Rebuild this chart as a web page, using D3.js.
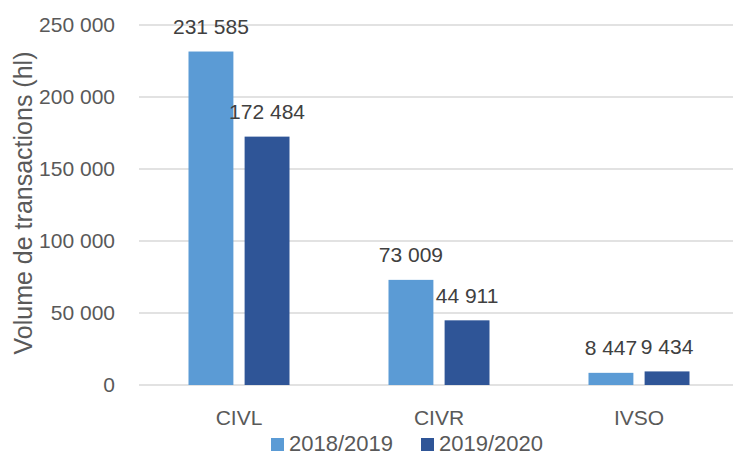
<!DOCTYPE html>
<html lang="fr">
<head>
<meta charset="utf-8">
<title>Volume de transactions</title>
<script src="https://d3js.org/d3.v7.min.js"></script>
<style>
  body { margin: 0; background: #ffffff; }
  svg text { font-family: "Liberation Sans", Arial, sans-serif; fill: #595959; }
</style>
</head>
<body>
<script>
// data
const categories = ["CIVL", "CIVR", "IVSO"];
const seriesNames = ["2018/2019", "2019/2020"];
const values2018 = [231585, 73009, 8447];
const values2019 = [172484, 44911, 9434];
const yTicks = [0, 50000, 100000, 150000, 200000, 250000];
const colors = ["#5B9BD5", "#2F5597"];

const width = 733, height = 455;
const svg = d3.select("body").append("svg")
  .attr("width", width)
  .attr("height", height);

const fr = d3.formatLocale({decimal: ",", thousands: " ", grouping: [3], currency: ["", " €"]});
const fmt = fr.format(",d");

// scales
const x0 = d3.scaleBand().domain(categories).range([139, 739]);
const x1 = d3.scaleBand().domain(seriesNames).range([49.5, 150.5]).paddingInner(0.2);
const y = d3.scaleLinear().domain([0, 250000]).range([385, 25]);

// gridlines
svg.append("g").selectAll("line")
  .data(yTicks)
  .join("line")
  .attr("x1", 139).attr("x2", 739)
  .attr("y1", d => y(d)).attr("y2", d => y(d))
  .attr("stroke", "#d9d9d9")
  .attr("stroke-width", 1.3);

// y tick labels
svg.append("g").selectAll("text")
  .data(yTicks)
  .join("text")
  .attr("x", 115)
  .attr("y", d => y(d))
  .attr("dy", "0.35em")
  .attr("text-anchor", "end")
  .style("font-size", "21px")
  .text(d => fmt(d));

// axis title
svg.append("text")
  .attr("transform", "translate(23,203) rotate(-90)")
  .attr("text-anchor", "middle")
  .attr("dy", "0.35em")
  .style("font-size", "25px")
  .text("Volume de transactions (hl)");

// bars + labels
const rows = categories.map((c, i) => ({cat: c, vals: [values2018[i], values2019[i]]}));
const groups = svg.append("g").selectAll("g")
  .data(rows)
  .join("g")
  .attr("transform", d => `translate(${x0(d.cat)},0)`);

groups.selectAll("rect")
  .data(d => d.vals.map((v, j) => ({s: seriesNames[j], v: v, j: j})))
  .join("rect")
  .attr("x", d => x1(d.s))
  .attr("y", d => y(d.v))
  .attr("width", x1.bandwidth())
  .attr("height", d => y(0) - y(d.v))
  .attr("fill", d => colors[d.j]);

groups.selectAll("text")
  .data(d => d.vals.map((v, j) => ({s: seriesNames[j], v: v, j: j})))
  .join("text")
  .attr("x", d => x1(d.s) + x1.bandwidth() / 2)
  .attr("y", d => y(d.v) - 17.5)
  .attr("text-anchor", "middle")
  .style("font-size", "21px")
  .style("fill", "#404040")
  .text(d => fmt(d.v));

// category labels
svg.append("g").selectAll("text")
  .data(categories)
  .join("text")
  .attr("x", d => x0(d) + x0.bandwidth() / 2)
  .attr("y", 425)
  .attr("text-anchor", "middle")
  .style("font-size", "21px")
  .text(d => d);

// legend
const legX = [271, 421];
const leg = svg.append("g").selectAll("g")
  .data(seriesNames)
  .join("g")
  .attr("transform", (d, i) => `translate(${legX[i]},0)`);
leg.append("rect")
  .attr("x", 0).attr("y", 438)
  .attr("width", 13).attr("height", 13)
  .attr("fill", (d, i) => colors[i]);
leg.append("text")
  .attr("x", 18).attr("y", 451)
  .style("font-size", "22px")
  .text(d => d);
</script>
</body>
</html>
